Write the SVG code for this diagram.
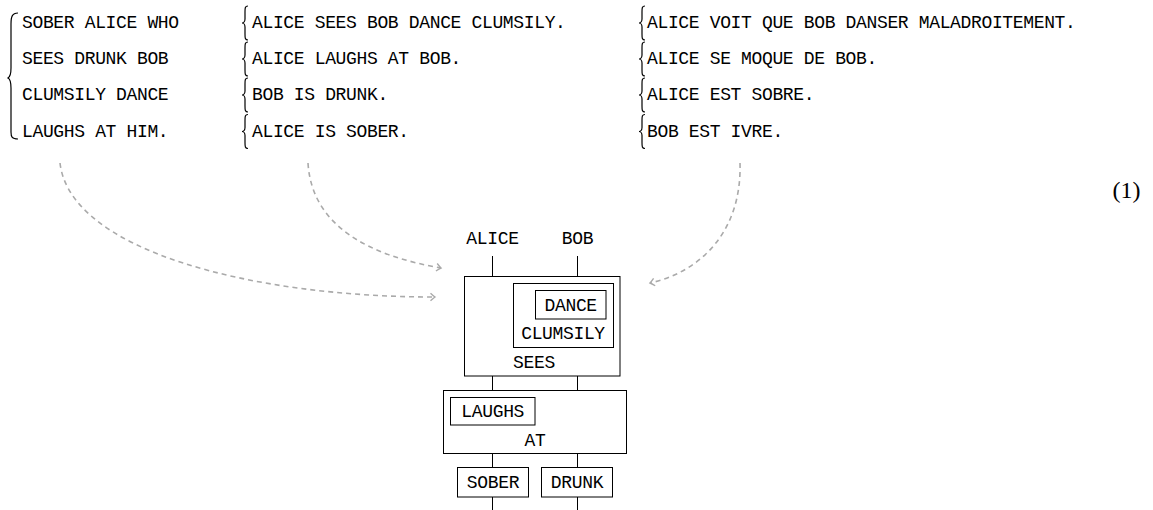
<svg xmlns="http://www.w3.org/2000/svg" width="1153" height="510" viewBox="0 0 1153 510">
<defs>
<style>
.t{font-family:"Liberation Mono",monospace;font-size:18px;letter-spacing:-0.35px;fill:#000}
.c{text-anchor:middle}
.box{fill:none;stroke:#000;stroke-width:1}
.w{stroke:#000;stroke-width:1}
.br{fill:none;stroke:#000;stroke-width:1.2}
.arr{fill:none;stroke:#aaaaaa;stroke-width:1.6;stroke-dasharray:5 4}
</style>
<marker id="ah" viewBox="-6 -5 8 10" markerWidth="8" markerHeight="10" refX="0" refY="0" orient="auto" markerUnits="userSpaceOnUse">
<path d="M-4.5,-3.8 Q-1.5,-1 0,0 Q-1.5,1 -4.5,3.8" fill="none" stroke="#aaaaaa" stroke-width="1.4"/>
</marker>
</defs>

<g id="english-sentence">
<path class="br" d="M18,13 C12,13 11,17 11,24 L11,68 C11,74 10,77 8,78 C10,79 11,82 11,88 L11,132 C11,137 12,139 18,139"/>
<text class="t" x="22" y="28">SOBER ALICE WHO</text>
<text class="t" x="22" y="64">SEES DRUNK BOB</text>
<text class="t" x="22" y="100">CLUMSILY DANCE</text>
<text class="t" x="22" y="136.5">LAUGHS AT HIM.</text>
</g>

<g id="english-facts">
<path class="br" d="M248,6 C245,6 245,8 245,12 L245,19 C245,22 243,23 242,23 C243,23 245,24 245,27 L245,34 C245,38 245,40 248,40"/>
<path class="br" d="M248,42 C245,42 245,44 245,48 L245,55 C245,58 243,59 242,59 C243,59 245,60 245,63 L245,70 C245,74 245,76 248,76"/>
<path class="br" d="M248,78 C245,78 245,80 245,84 L245,91 C245,94 243,95 242,95 C243,95 245,96 245,99 L245,106 C245,110 245,112 248,112"/>
<path class="br" d="M248,114.5 C245,114.5 245,116.5 245,120.5 L245,127.5 C245,130.5 243,131.5 242,131.5 C243,131.5 245,132.5 245,135.5 L245,142.5 C245,146.5 245,148.5 248,148.5"/>
<text class="t" x="252" y="28">ALICE SEES BOB DANCE CLUMSILY.</text>
<text class="t" x="252" y="64">ALICE LAUGHS AT BOB.</text>
<text class="t" x="252" y="100">BOB IS DRUNK.</text>
<text class="t" x="252" y="136.5">ALICE IS SOBER.</text>
</g>

<g id="french-facts">
<path class="br" d="M645,6 C642,6 642,8 642,12 L642,19 C642,22 640,23 639,23 C640,23 642,24 642,27 L642,34 C642,38 642,40 645,40"/>
<path class="br" d="M645,42 C642,42 642,44 642,48 L642,55 C642,58 640,59 639,59 C640,59 642,60 642,63 L642,70 C642,74 642,76 645,76"/>
<path class="br" d="M645,78 C642,78 642,80 642,84 L642,91 C642,94 640,95 639,95 C640,95 642,96 642,99 L642,106 C642,110 642,112 645,112"/>
<path class="br" d="M645,114.5 C642,114.5 642,116.5 642,120.5 L642,127.5 C642,130.5 640,131.5 639,131.5 C640,131.5 642,132.5 642,135.5 L642,142.5 C642,146.5 642,148.5 645,148.5"/>
<text class="t" x="647" y="28">ALICE VOIT QUE BOB DANSER MALADROITEMENT.</text>
<text class="t" x="647" y="64">ALICE SE MOQUE DE BOB.</text>
<text class="t" x="647" y="100">ALICE EST SOBRE.</text>
<text class="t" x="647" y="136.5">BOB EST IVRE.</text>
</g>

<g id="equation-number">
<text x="1126.5" y="198" font-family="Liberation Serif,serif" font-size="24" text-anchor="middle">(1)</text>
</g>

<g id="connectors">
<path class="arr" d="M60,163 C70,250 250,297 435,297" marker-end="url(#ah)"/>
<path class="arr" d="M308,163 C312,228 372,256 441,268" marker-end="url(#ah)"/>
<path class="arr" d="M740,163 C742,232 700,272 650,283" marker-end="url(#ah)"/>
</g>

<g id="wires">
<line class="w" x1="492.5" y1="256" x2="492.5" y2="276.5"/>
<line class="w" x1="577.5" y1="256" x2="577.5" y2="276.5"/>
<line class="w" x1="492.5" y1="376" x2="492.5" y2="390.5"/>
<line class="w" x1="577.5" y1="376" x2="577.5" y2="390.5"/>
<line class="w" x1="492.5" y1="453.5" x2="492.5" y2="467.5"/>
<line class="w" x1="577.5" y1="453.5" x2="577.5" y2="467.5"/>
<line class="w" x1="492.5" y1="497" x2="492.5" y2="510"/>
<line class="w" x1="577.5" y1="497" x2="577.5" y2="510"/>
</g>

<g id="label-alice"><text class="t c" x="492.5" y="244">ALICE</text></g>
<g id="label-bob"><text class="t c" x="577.5" y="244">BOB</text></g>

<g id="node-sees">
<rect class="box" x="464.5" y="276.5" width="155.5" height="99.5"/>
<text class="t c" x="534" y="367.5">SEES</text>
</g>
<g id="node-clumsily">
<rect class="box" x="513.5" y="283.5" width="100" height="64"/>
<text class="t c" x="563" y="339">CLUMSILY</text>
</g>
<g id="node-dance">
<rect class="box" x="535.5" y="290.5" width="70.5" height="28.5"/>
<text class="t c" x="570.7" y="311">DANCE</text>
</g>
<g id="node-at">
<rect class="box" x="443.5" y="390.5" width="183" height="63"/>
<text class="t c" x="535" y="445.5">AT</text>
</g>
<g id="node-laughs">
<rect class="box" x="450.5" y="397.5" width="84.5" height="27.5"/>
<text class="t c" x="492.7" y="417">LAUGHS</text>
</g>
<g id="node-sober">
<rect class="box" x="457.5" y="467.5" width="71" height="29.5"/>
<text class="t c" x="493" y="488">SOBER</text>
</g>
<g id="node-drunk">
<rect class="box" x="541.5" y="467.5" width="71" height="29.5"/>
<text class="t c" x="577" y="488">DRUNK</text>
</g>
</svg>
